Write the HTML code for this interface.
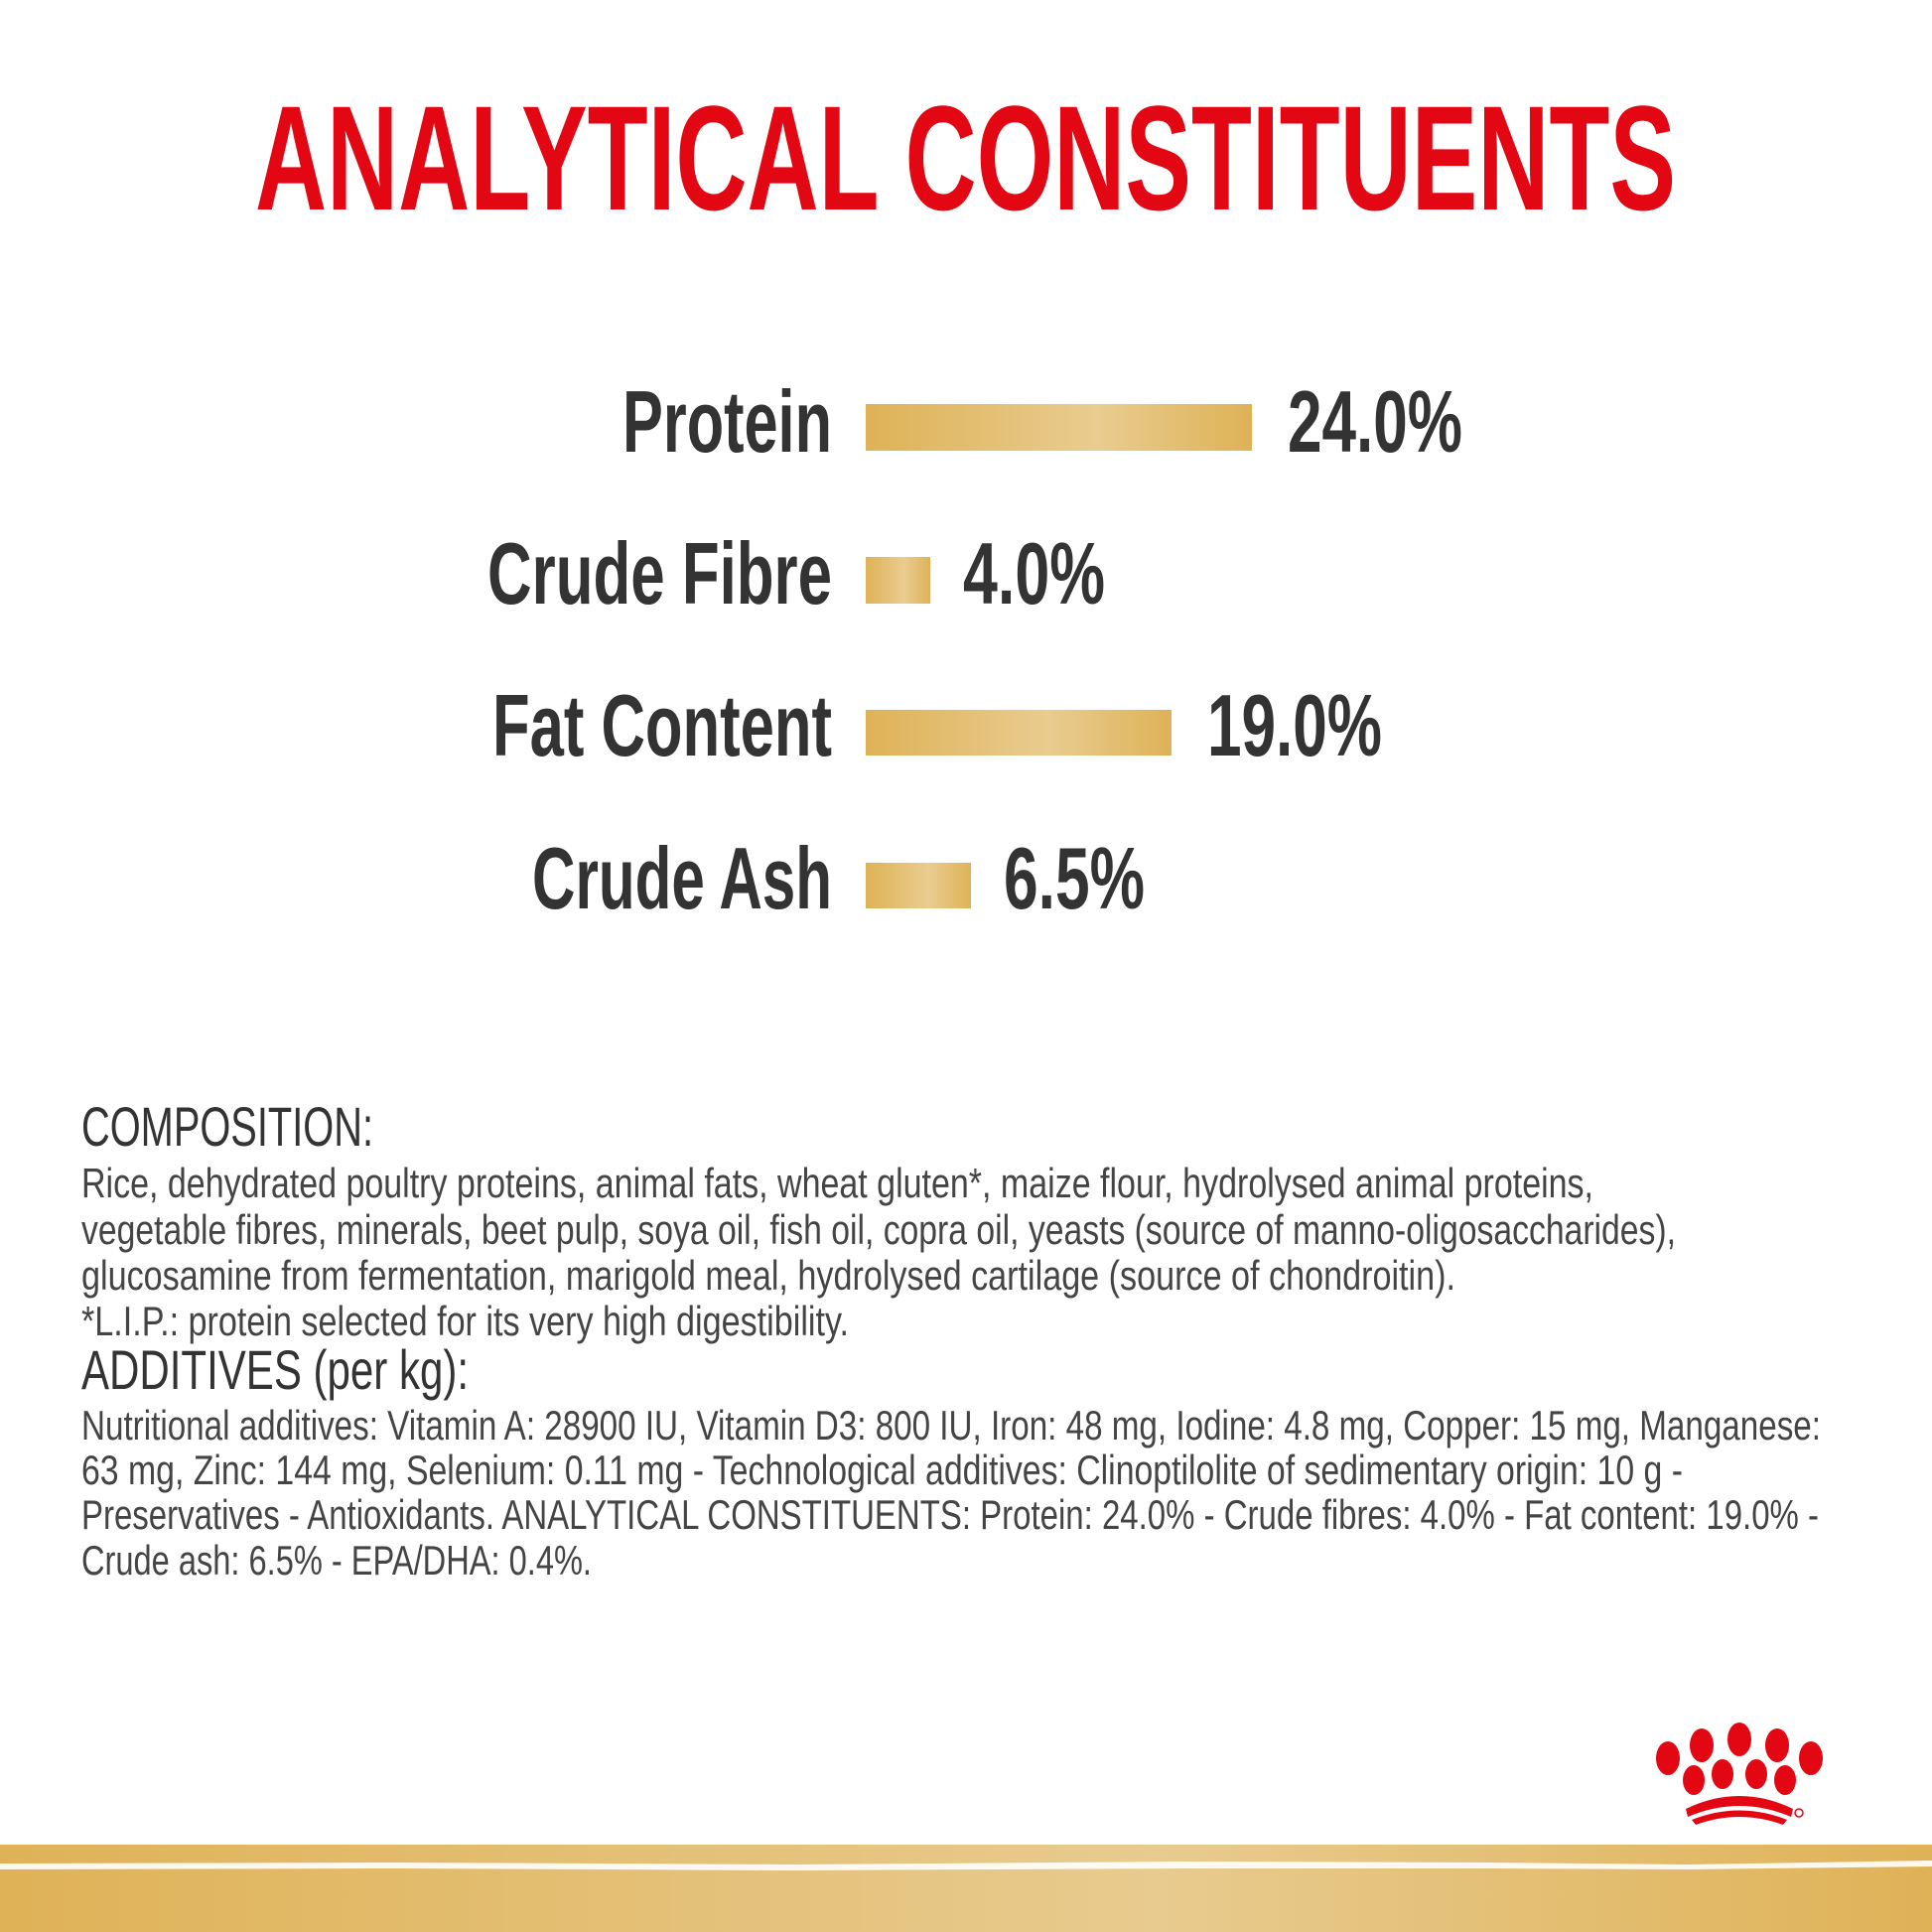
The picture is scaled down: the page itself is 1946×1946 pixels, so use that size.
<!DOCTYPE html>
<html><head><meta charset="utf-8"><style>
html,body{margin:0;padding:0;background:#fff}
svg{display:block}
</style></head><body>
<svg width="1946" height="1946" viewBox="0 0 1946 1946" xmlns="http://www.w3.org/2000/svg">
<defs>
<linearGradient id="g" x1="0" x2="1" y1="0" y2="0">
<stop offset="0" stop-color="#deb257"/><stop offset="0.6" stop-color="#e9cc8f"/><stop offset="1" stop-color="#deb257"/>
</linearGradient>
<linearGradient id="gb" x1="0" x2="1" y1="0" y2="0">
<stop offset="0" stop-color="#dfb257"/><stop offset="0.6" stop-color="#e8cb8f"/><stop offset="1" stop-color="#dfb257"/>
</linearGradient>
</defs>
<rect width="1946" height="1946" fill="#fff"/>
<text x="257" y="211" font-family="Liberation Sans, sans-serif" font-weight="bold" font-size="150" fill="#e30613" textLength="1431" lengthAdjust="spacingAndGlyphs">ANALYTICAL CONSTITUENTS</text>

<g font-family="Liberation Sans, sans-serif" font-weight="bold" font-size="88" fill="#333">
<text x="627" y="455" textLength="211" lengthAdjust="spacingAndGlyphs">Protein</text>
<text x="491" y="608" textLength="347" lengthAdjust="spacingAndGlyphs">Crude Fibre</text>
<text x="496" y="761" textLength="342" lengthAdjust="spacingAndGlyphs">Fat Content</text>
<text x="536" y="915" textLength="302" lengthAdjust="spacingAndGlyphs">Crude Ash</text>
<text x="1297" y="455" textLength="176" lengthAdjust="spacingAndGlyphs">24.0%</text>
<text x="970" y="608" textLength="143" lengthAdjust="spacingAndGlyphs">4.0%</text>
<text x="1216" y="761" textLength="176" lengthAdjust="spacingAndGlyphs">19.0%</text>
<text x="1011" y="915" textLength="142" lengthAdjust="spacingAndGlyphs">6.5%</text>
</g>
<rect x="872" y="407" width="389" height="47" fill="url(#g)"/>
<rect x="872" y="561" width="65" height="47" fill="url(#g)"/>
<rect x="872" y="715" width="308" height="46" fill="url(#g)"/>
<rect x="872" y="869" width="106" height="46" fill="url(#g)"/>

<g font-family="Liberation Sans, sans-serif" fill="#333">
<text x="82" y="1154" font-size="56" textLength="294" lengthAdjust="spacingAndGlyphs">COMPOSITION:</text>
<text x="82" y="1399" font-size="56" textLength="390" lengthAdjust="spacingAndGlyphs">ADDITIVES (per kg):</text>
<g font-size="42" fill="#444">
<text x="82" y="1206" textLength="1523" lengthAdjust="spacingAndGlyphs">Rice, dehydrated poultry proteins, animal fats, wheat gluten*, maize flour, hydrolysed animal proteins,</text>
<text x="82" y="1253" textLength="1606" lengthAdjust="spacingAndGlyphs">vegetable fibres, minerals, beet pulp, soya oil, fish oil, copra oil, yeasts (source of manno-oligosaccharides),</text>
<text x="82" y="1299" textLength="1384" lengthAdjust="spacingAndGlyphs">glucosamine from fermentation, marigold meal, hydrolysed cartilage (source of chondroitin).</text>
<text x="82" y="1345" textLength="773" lengthAdjust="spacingAndGlyphs">*L.I.P.: protein selected for its very high digestibility.</text>
<text x="82" y="1450" textLength="1752" lengthAdjust="spacingAndGlyphs">Nutritional additives: Vitamin A: 28900 IU, Vitamin D3: 800 IU, Iron: 48 mg, Iodine: 4.8 mg, Copper: 15 mg, Manganese:</text>
<text x="82" y="1495" textLength="1613" lengthAdjust="spacingAndGlyphs">63 mg, Zinc: 144 mg, Selenium: 0.11 mg - Technological additives: Clinoptilolite of sedimentary origin: 10 g -</text>
<text x="82" y="1540" textLength="1750" lengthAdjust="spacingAndGlyphs">Preservatives - Antioxidants. ANALYTICAL CONSTITUENTS: Protein: 24.0% - Crude fibres: 4.0% - Fat content: 19.0% -</text>
<text x="82" y="1586" textLength="514" lengthAdjust="spacingAndGlyphs">Crude ash: 6.5% - EPA/DHA: 0.4%.</text>
</g>
</g>

<g fill="#e30613">
<ellipse cx="1680" cy="1771" rx="12" ry="17"/>
<ellipse cx="1714" cy="1758" rx="12" ry="17"/>
<ellipse cx="1752" cy="1752" rx="12" ry="17"/>
<ellipse cx="1790" cy="1758" rx="12" ry="17"/>
<ellipse cx="1824" cy="1771" rx="12" ry="17"/>
<ellipse cx="1706" cy="1793" rx="11" ry="15"/>
<ellipse cx="1735" cy="1787" rx="11" ry="15"/>
<ellipse cx="1769" cy="1787" rx="11" ry="15"/>
<ellipse cx="1798" cy="1793" rx="11" ry="15"/>
<path d="M1698 1822 Q1752 1796 1806 1822 L1804 1830 Q1752 1808 1700 1830 Z"/>
<path d="M1704 1833 Q1752 1814 1800 1833 L1796 1838 Q1752 1822 1708 1838 Z"/>
<circle cx="1812" cy="1826" r="4" fill="none" stroke="#e30613" stroke-width="1.5"/>
</g>

<rect x="0" y="1858" width="1946" height="88" fill="url(#gb)"/>
<path d="M0 1877 L400 1876 L800 1878 L1200 1875 L1500 1876 L1700 1878 L1946 1874 L1946 1880 L1700 1883 L1500 1882 L1200 1882 L800 1884 L400 1882 L0 1883 Z" fill="#fff" opacity="0.9"/>
</svg>
</body></html>
